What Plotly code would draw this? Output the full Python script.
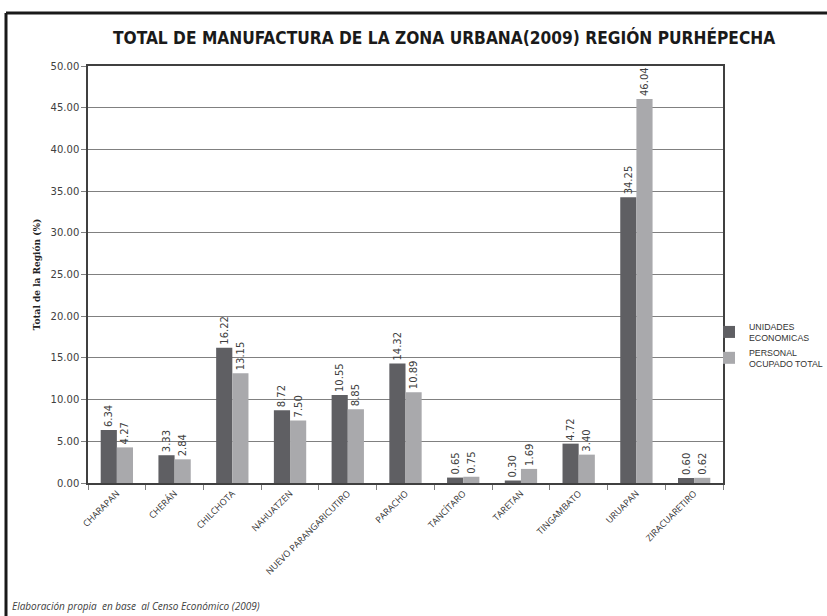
import plotly.graph_objects as go

categories = ["CHARAPAN", "CHERÁN", "CHILCHOTA", "NAHUATZEN", "NUEVO PARANGARICUTIRO",
              "PARACHO", "TANCÍTARO", "TARETAN", "TINGAMBATO", "URUAPAN", "ZIRACUARETIRO"]
unidades = [6.34, 3.33, 16.22, 8.72, 10.55, 14.32, 0.65, 0.30, 4.72, 34.25, 0.60]
personal = [4.27, 2.84, 13.15, 7.50, 8.85, 10.89, 0.75, 1.69, 3.40, 46.04, 0.62]
series_names = ["UNIDADES<br>ECONOMICAS", "PERSONAL<br>OCUPADO TOTAL"]

W, H = 827, 616
L, R, T, B = 88, 104, 66, 133
pw, ph = W - L - R, H - T - B

def px(x):
    return (x - L) / pw

def py(y):
    return (H - B - y) / ph

fig = go.Figure()
for vals, name, col in [(unidades, series_names[0], "#5f5f63"), (personal, series_names[1], "#a9a9ac")]:
    fig.add_trace(go.Bar(
        x=categories, y=vals, name=name, marker=dict(color=col, line=dict(width=0)),
        text=[f"{v:.2f}" for v in vals], textposition="outside", textangle=-90,
        constraintext="none",
        textfont=dict(family="DejaVu Sans", size=10, color="#404040"),
        cliponaxis=False,
    ))

fig.update_layout(
    width=W, height=H,
    margin=dict(l=L, r=R, t=T, b=B, autoexpand=False),
    paper_bgcolor="white", plot_bgcolor="white",
    barmode="group", bargap=0.44, bargroupgap=0.0,
    showlegend=True,
    legend=dict(x=px(709), y=py(314), xanchor="left", yanchor="top",
                font=dict(family="Liberation Sans", size=8.8, color="#333333"),
                itemsizing="constant", itemwidth=30, tracegroupgap=6, bgcolor="rgba(0,0,0,0)"),
    font=dict(family="Liberation Sans, Arial", color="#404040"),
)

fig.update_xaxes(
    automargin=False,
    showline=True, linecolor="#404040", linewidth=1.5, mirror=True,
    ticks="outside", tickson="boundaries", ticklen=5, tickcolor="#808080",
    tickangle=-45, tickfont=dict(family="Open Sans", size=9, color="#333333"),
    showgrid=False,
)
fig.update_yaxes(
    automargin=False,
    range=[0, 50], dtick=5, tickformat=".2f",
    showline=True, linecolor="#404040", linewidth=1.5, mirror=True,
    ticks="outside", ticklen=5, tickcolor="#808080",
    gridcolor="#808080", gridwidth=1,
    tickfont=dict(family="DejaVu Sans", size=10, color="#404040"),
    title=dict(text="<b>Total de la Región (%)</b>", font=dict(family="DejaVu Serif", size=9, color="#222222"), standoff=8),
)

fig.add_annotation(
    text="<b>TOTAL DE MANUFACTURA DE LA ZONA URBANA(2009) REGIÓN PURHÉPECHA</b>",
    xref="paper", yref="paper", x=px(444), y=py(38), xanchor="center", yanchor="middle",
    showarrow=False, font=dict(family="DejaVu Sans Condensed", size=17.2, color="#1a1a1a"),
)
fig.add_annotation(
    text="<i>Elaboración propia  en base  al Censo Económico (2009)</i>",
    xref="paper", yref="paper", x=px(10), y=py(606), xanchor="left", yanchor="middle",
    showarrow=False, font=dict(family="Open Sans", size=10, color="#404040"),
)
# outer frame
fig.add_shape(type="line", xref="paper", yref="paper", x0=px(6), x1=px(830), y0=py(13), y1=py(13),
              line=dict(color="#1a1a1a", width=3))
fig.add_shape(type="line", xref="paper", yref="paper", x0=px(6), x1=px(6), y0=py(13), y1=py(620),
              line=dict(color="#1a1a1a", width=3))

fig.write_html("out.html", config={"displayModeBar": False},
               post_script="document.body.style.margin='0';document.body.style.padding='0';")
